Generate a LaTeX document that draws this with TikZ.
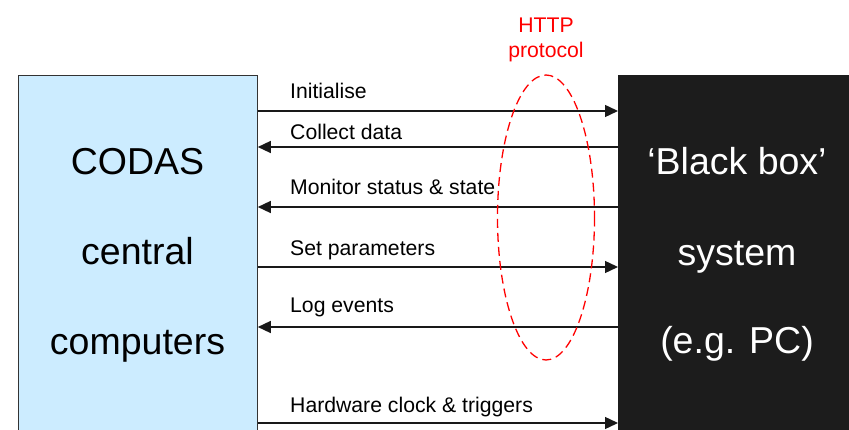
\documentclass[tikz,border=0pt]{standalone}
\usepackage{fontspec}
\setmainfont{Liberation Sans}
\usetikzlibrary{arrows.meta}
\definecolor{boxblue}{HTML}{CCECFF}
\definecolor{boxdark}{HTML}{1C1C1C}
\begin{document}
\begin{tikzpicture}[x=1pt,y=-1pt,
  sysbox/.style={draw=black!80,line width=0.8pt,minimum width=239pt,minimum height=380pt,anchor=north west,inner sep=0pt},
  bigtext/.style={font=\fontsize{37.5}{44}\selectfont,anchor=base,inner sep=0pt},
  msg/.style={line width=1.4pt,draw=black!90,-{Triangle[length=13pt,width=12pt]}},
  msglabel/.style={font=\fontsize{21.2}{24}\selectfont,anchor=base west,inner sep=0pt},
  redtext/.style={font=\fontsize{21.2}{24}\selectfont,anchor=base,inner sep=0pt,text=red}]
\useasboundingbox (0,0) rectangle (849,430);
\clip (0,0) rectangle (849,430);
\fill[white] (0,0) rectangle (849,430);
% boxes
\node[sysbox,fill=boxblue] (L) at (18,75) {};
\node[sysbox,fill=boxdark,draw=boxdark] (R) at (618,75) {};
% box texts
\node[bigtext] (l1) at (137.5,175) {CODAS};
\node[bigtext] (l2) at (137.5,265) {central};
\node[bigtext] (l3) at (137.5,355) {computers};
\node[bigtext,text=white] (r1) at (737,175) {‘Black box’};
\node[bigtext,text=white] (r2) at (737,266) {system};
\node[bigtext,text=white] (r3) at (737,354) {(e.g. PC)};
% message rows
\coordinate (y1) at (0,111);
\coordinate (y2) at (0,147);
\coordinate (y3) at (0,207);
\coordinate (y4) at (0,267);
\coordinate (y5) at (0,327);
\coordinate (y6) at (0,423);
\draw[msg] (L.east |- y1) -- (R.west |- y1);
\draw[msg] (R.west |- y2) -- (L.east |- y2);
\draw[msg] (R.west |- y3) -- (L.east |- y3);
\draw[msg] (L.east |- y4) -- (R.west |- y4);
\draw[msg] (R.west |- y5) -- (L.east |- y5);
\draw[msg] (L.east |- y6) -- (R.west |- y6);
\node[msglabel] (m1) at (290,99) {Initialise};
\node[msglabel] (m2) at (290,140) {Collect data};
\node[msglabel] (m3) at (290,195) {Monitor status \& state};
\node[msglabel] (m4) at (290,256) {Set parameters};
\node[msglabel] (m5) at (290,313) {Log events};
\node[msglabel] (m6) at (290,412) {Hardware clock \& triggers};
% HTTP ellipse
\draw[red,line width=1.3pt,dash pattern=on 9pt off 5pt] (546,217.5) ellipse [x radius=48.5,y radius=142.5];
\node[redtext] (h1) at (546,33) {HTTP};
\node[redtext] (h2) at (546,58) {protocol};
\end{tikzpicture}
\end{document}
